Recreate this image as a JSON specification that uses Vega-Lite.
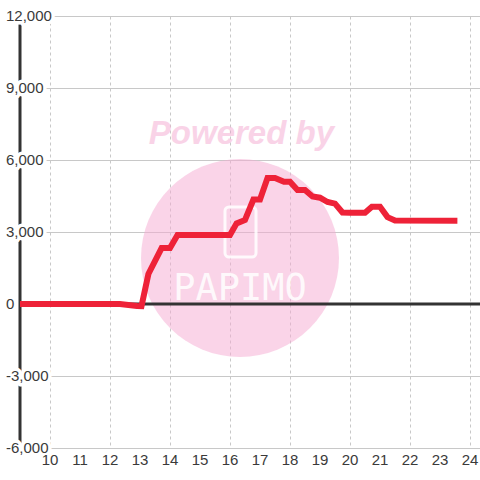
{
  "$schema": "https://vega.github.io/schema/vega-lite/v6.json",
  "width": 460,
  "height": 432,
  "autosize": {"type": "none"},
  "padding": {"left": 20, "top": 16, "right": 0, "bottom": 32},
  "background": "#ffffff",
  "config": {
    "view": {"stroke": null},
    "axis": {"labelFont": "Liberation Sans", "labelFontSize": 15, "labelColor": "#3a3a3a", "title": null, "domain": false, "ticks": false, "gridColor": "#c8c8c8", "gridWidth": 1, "labels": false}
  },
  "layer": [
    {
      "data": {"values": [{}]},
      "mark": {"type": "circle", "fill": "#f5a9d1", "opacity": 0.5, "size": 39200},
      "encoding": {
        "x": {
          "datum": 16.333, "type": "quantitative",
          "scale": {"domain": [9, 24.3333], "nice": false, "zero": false},
          "axis": {
            "orient": "bottom", "values": [10, 11, 12, 13, 14, 15, 16, 17, 18, 19, 20, 21, 22, 23, 24],
            "grid": true, "gridColor": "#c8c8c8", "gridDash": [3, 3], "gridWidth": 1,
            "domain": false, "ticks": false, "labels": false, "title": null
          }
        },
        "y": {
          "datum": 1917, "type": "quantitative",
          "scale": {"domain": [-6000, 12000], "nice": false, "zero": false},
          "axis": {
            "values": [-6000, -4500, -3000, -1500, 0, 1500, 3000, 4500, 6000, 7500, 9000, 10500, 12000],
            "grid": true, "gridColor": "#c8c8c8", "gridWidth": 1,
            "domain": false, "ticks": false, "labels": false, "title": null
          }
        }
      }
    },
    {
      "data": {"values": [{"t": "Powered by"}]},
      "mark": {"type": "text", "font": "Liberation Sans", "fontSize": 33, "fontWeight": "bold", "fontStyle": "italic", "fill": "#f5a9d1", "opacity": 0.5, "align": "center", "baseline": "middle"},
      "encoding": {
        "x": {"datum": 16.38, "type": "quantitative"},
        "y": {"datum": 7083, "type": "quantitative"},
        "text": {"field": "t"}
      }
    },
    {
      "data": {"values": [{}]},
      "mark": {"type": "rect", "fill": null, "stroke": "#ffffff", "strokeWidth": 3, "strokeOpacity": 0.85, "cornerRadius": 4},
      "encoding": {
        "x": {"datum": 15.833, "type": "quantitative"},
        "x2": {"datum": 16.867},
        "y": {"datum": 4042, "type": "quantitative"},
        "y2": {"datum": 1958}
      }
    },
    {
      "data": {"values": [{"t": "PAPIMO"}]},
      "mark": {"type": "text", "font": "DejaVu Sans Mono", "fontSize": 37, "fill": "#ffffff", "opacity": 0.85, "align": "center", "baseline": "middle"},
      "encoding": {
        "x": {"datum": 16.333, "type": "quantitative"},
        "y": {"datum": 625, "type": "quantitative"},
        "text": {"field": "t"}
      }
    },
    {
      "data": {"values": [{}]},
      "mark": {"type": "rule", "stroke": "#333333", "strokeWidth": 3},
      "encoding": {
        "y": {"datum": 0, "type": "quantitative"}
      }
    },
    {
      "data": {"values": [{}]},
      "mark": {"type": "rule", "stroke": "#333333", "strokeWidth": 3},
      "encoding": {
        "x": {"datum": 9, "type": "quantitative"},
        "y": {"datum": -6000, "type": "quantitative"},
        "y2": {"datum": 12000}
      }
    },
    {
      "data": {"values": [{"v": -6000, "label": "-6,000"}, {"v": -3000, "label": "-3,000"}, {"v": 0, "label": "0"}, {"v": 3000, "label": "3,000"}, {"v": 6000, "label": "6,000"}, {"v": 9000, "label": "9,000"}, {"v": 12000, "label": "12,000"}]},
      "mark": {"type": "text", "font": "Liberation Sans", "fontSize": 15, "align": "left", "baseline": "middle", "dx": -14, "dy": 0, "fill": "#ffffff", "stroke": "#ffffff", "strokeWidth": 7, "strokeJoin": "round"},
      "encoding": {
        "x": {"datum": 9, "type": "quantitative"},
        "y": {"field": "v", "type": "quantitative"},
        "text": {"field": "label"}
      }
    },
    {
      "data": {"values": [{"v": -6000, "label": "-6,000"}, {"v": -3000, "label": "-3,000"}, {"v": 0, "label": "0"}, {"v": 3000, "label": "3,000"}, {"v": 6000, "label": "6,000"}, {"v": 9000, "label": "9,000"}, {"v": 12000, "label": "12,000"}]},
      "mark": {"type": "text", "font": "Liberation Sans", "fontSize": 15, "align": "left", "baseline": "middle", "dx": -14, "dy": 0, "fill": "#3a3a3a"},
      "encoding": {
        "x": {"datum": 9, "type": "quantitative"},
        "y": {"field": "v", "type": "quantitative"},
        "text": {"field": "label"}
      }
    },
    {
      "data": {"values": [{"h": 10}, {"h": 11}, {"h": 12}, {"h": 13}, {"h": 14}, {"h": 15}, {"h": 16}, {"h": 17}, {"h": 18}, {"h": 19}, {"h": 20}, {"h": 21}, {"h": 22}, {"h": 23}, {"h": 24}]},
      "mark": {"type": "text", "font": "Liberation Sans", "fontSize": 15, "align": "center", "baseline": "top", "dy": 5, "fill": "#3a3a3a"},
      "encoding": {
        "x": {"field": "h", "type": "quantitative"},
        "y": {"datum": -6000, "type": "quantitative"},
        "text": {"field": "h", "type": "quantitative", "format": "d"}
      }
    },
    {
      "data": {"values": [
        {"h": 9.0, "v": 0}, {"h": 12.33, "v": 0}, {"h": 12.9, "v": -80}, {"h": 13.05, "v": -90},
        {"h": 13.28, "v": 1250}, {"h": 13.72, "v": 2330}, {"h": 14.0, "v": 2330}, {"h": 14.25, "v": 2875},
        {"h": 16.0, "v": 2875}, {"h": 16.22, "v": 3360}, {"h": 16.5, "v": 3500}, {"h": 16.78, "v": 4350},
        {"h": 17.0, "v": 4350}, {"h": 17.25, "v": 5250}, {"h": 17.5, "v": 5250}, {"h": 17.8, "v": 5090},
        {"h": 18.0, "v": 5090}, {"h": 18.25, "v": 4750}, {"h": 18.5, "v": 4750}, {"h": 18.75, "v": 4480},
        {"h": 19.0, "v": 4430}, {"h": 19.25, "v": 4250}, {"h": 19.5, "v": 4180}, {"h": 19.75, "v": 3810},
        {"h": 20.0, "v": 3800}, {"h": 20.5, "v": 3800}, {"h": 20.73, "v": 4050}, {"h": 21.0, "v": 4050},
        {"h": 21.25, "v": 3620}, {"h": 21.5, "v": 3480}, {"h": 23.58, "v": 3470}
      ]},
      "mark": {"type": "line", "stroke": "#ee2238", "strokeWidth": 6, "strokeJoin": "miter", "strokeCap": "butt"},
      "encoding": {
        "x": {"field": "h", "type": "quantitative"},
        "y": {"field": "v", "type": "quantitative"}
      }
    }
  ]
}
